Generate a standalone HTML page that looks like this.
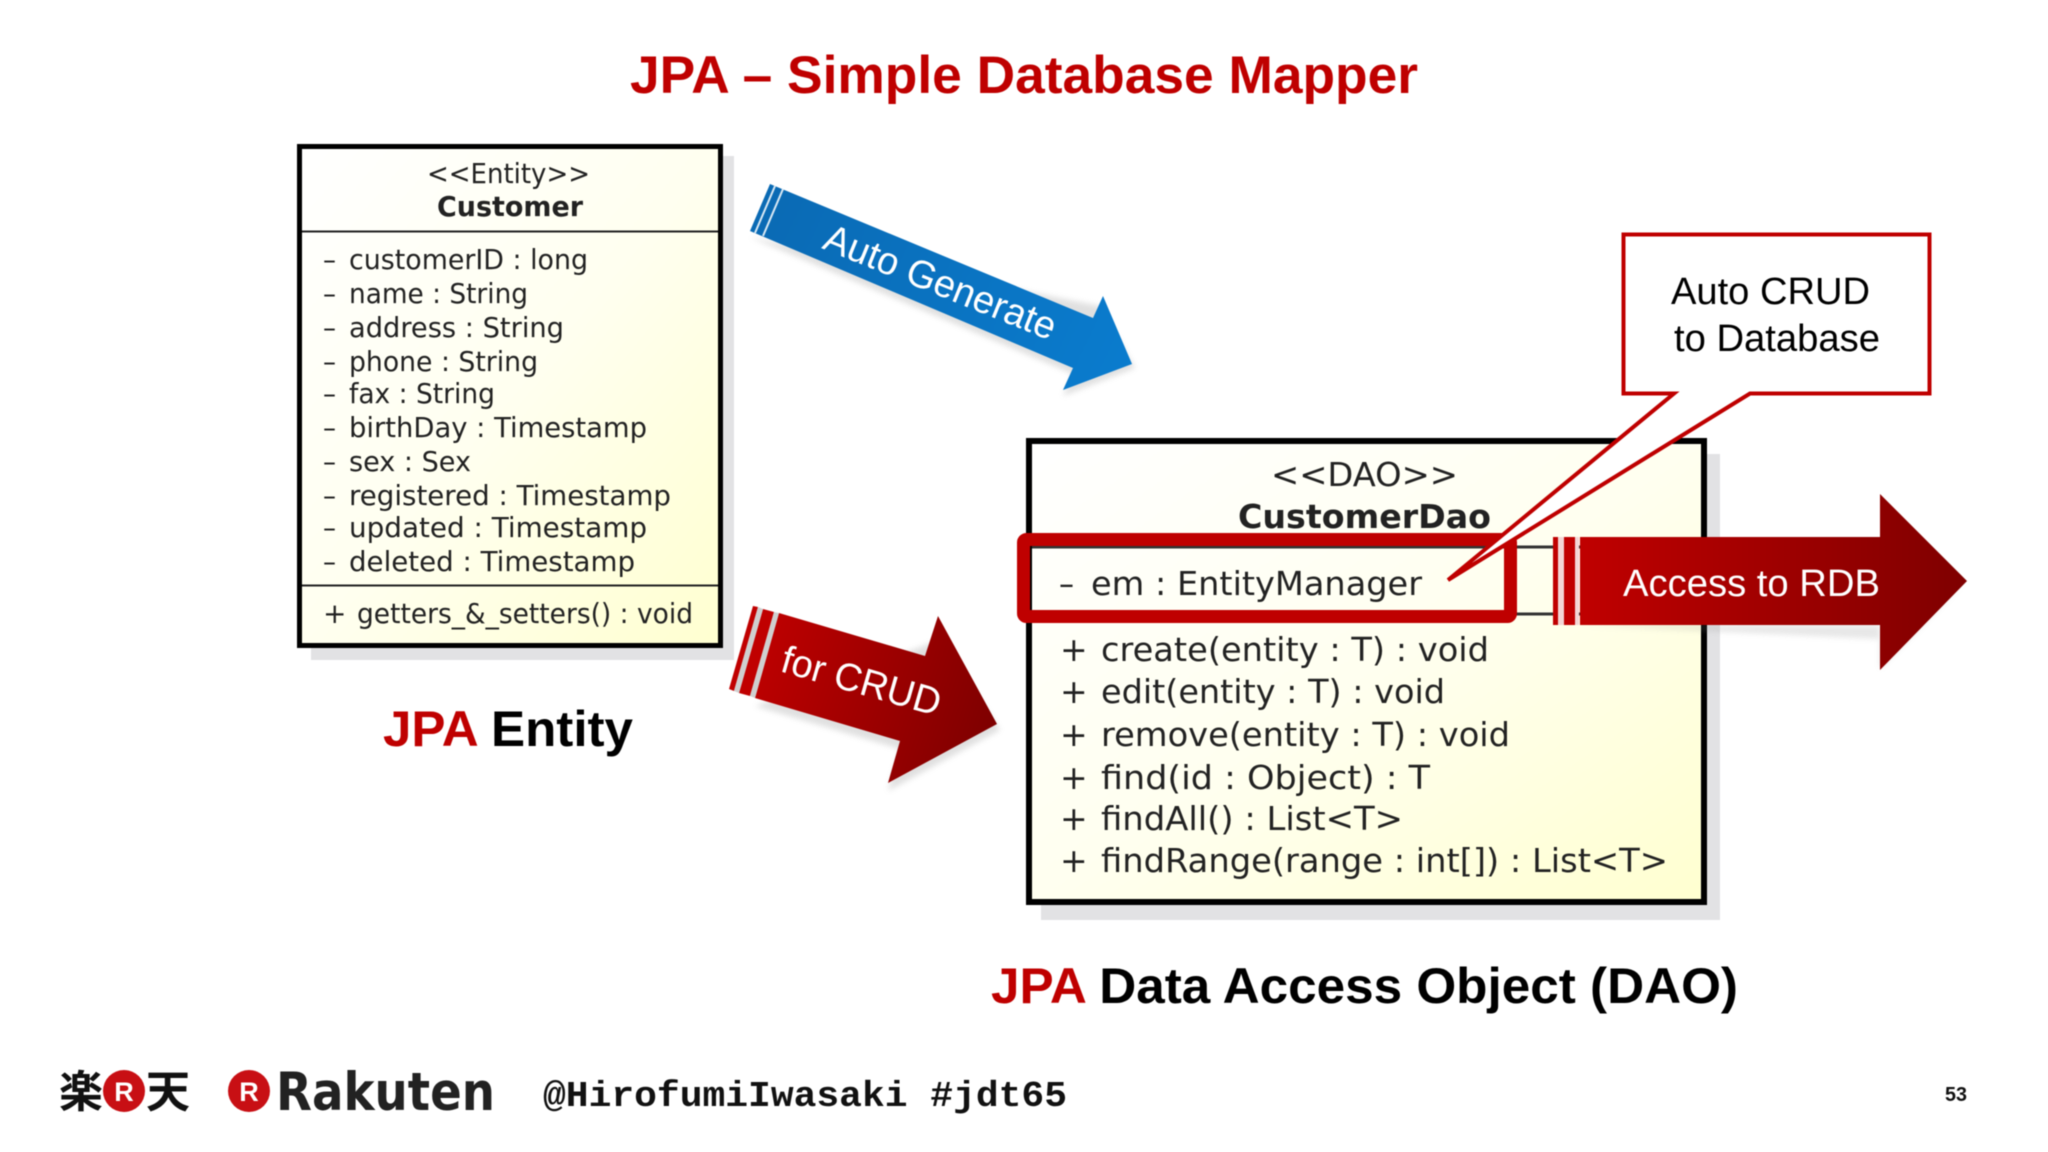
<!DOCTYPE html>
<html><head><meta charset="utf-8"><title>JPA</title>
<style>
html,body{margin:0;padding:0;background:#fff;width:2048px;height:1152px;overflow:hidden}
svg{display:block;filter:blur(.6px)}
text{white-space:pre}
.s{font-family:"Liberation Sans",sans-serif}
.b{font-family:"Liberation Sans",sans-serif;font-weight:bold}
.u{font-family:"DejaVu Sans",sans-serif;fill:#222}
.c{font-size:28px}
.d{font-size:33px}
</style></head><body>
<svg width="2048" height="1152" viewBox="0 0 2048 1152" xmlns="http://www.w3.org/2000/svg">
<defs>
<linearGradient id="y" x1="0" y1="0" x2="1" y2="1"><stop offset="0" stop-color="#ffffff"/><stop offset=".5" stop-color="#fffff0"/><stop offset="1" stop-color="#ffffd0"/></linearGradient>
<linearGradient id="bl" gradientUnits="userSpaceOnUse" x1="760" y1="200" x2="1130" y2="370"><stop offset="0" stop-color="#0a6ab4"/><stop offset="1" stop-color="#0a7cce"/></linearGradient>
<linearGradient id="rd" gradientUnits="userSpaceOnUse" x1="750" y1="640" x2="990" y2="720"><stop offset="0" stop-color="#c00000"/><stop offset="1" stop-color="#800000"/></linearGradient>
<linearGradient id="rh" gradientUnits="userSpaceOnUse" x1="1580" y1="0" x2="1960" y2="0"><stop offset="0" stop-color="#c00000"/><stop offset="1" stop-color="#800000"/></linearGradient>
<filter id="sh" x="-10%" y="-10%" width="120%" height="120%"><feGaussianBlur stdDeviation="3"/></filter>
</defs>

<text class="b" x="630" y="93" font-size="53" fill="#bf0000" textLength="788" lengthAdjust="spacingAndGlyphs">JPA – Simple Database Mapper</text>

<!-- Customer -->
<rect x="311" y="156" width="423" height="504" fill="#e2e2e4"/>
<rect x="299.500" y="146.500" width="421" height="499" fill="url(#y)" stroke="#000" stroke-width="5"/>
<line x1="302" y1="231.500" x2="718" y2="231.500" stroke="#222" stroke-width="2"/>
<line x1="302" y1="585.500" x2="718" y2="585.500" stroke="#222" stroke-width="2"/>
<text class="u c" x="427" y="183" textLength="163" lengthAdjust="spacingAndGlyphs">&lt;&lt;Entity&gt;&gt;</text>
<text class="u c" x="437" y="216" font-weight="bold" textLength="146" lengthAdjust="spacingAndGlyphs">Customer</text>
<text class="u c" x="323" y="269" textLength="13" lengthAdjust="spacingAndGlyphs">–</text><text class="u c" x="349" y="269" textLength="239" lengthAdjust="spacingAndGlyphs">customerID : long</text>
<text class="u c" x="323" y="303" textLength="13" lengthAdjust="spacingAndGlyphs">–</text><text class="u c" x="349" y="303" textLength="179" lengthAdjust="spacingAndGlyphs">name : String</text>
<text class="u c" x="323" y="337" textLength="13" lengthAdjust="spacingAndGlyphs">–</text><text class="u c" x="349" y="337" textLength="215" lengthAdjust="spacingAndGlyphs">address : String</text>
<text class="u c" x="323" y="371" textLength="13" lengthAdjust="spacingAndGlyphs">–</text><text class="u c" x="349" y="371" textLength="189" lengthAdjust="spacingAndGlyphs">phone : String</text>
<text class="u c" x="323" y="403" textLength="13" lengthAdjust="spacingAndGlyphs">–</text><text class="u c" x="349" y="403" textLength="146" lengthAdjust="spacingAndGlyphs">fax : String</text>
<text class="u c" x="323" y="437" textLength="13" lengthAdjust="spacingAndGlyphs">–</text><text class="u c" x="349" y="437" textLength="298" lengthAdjust="spacingAndGlyphs">birthDay : Timestamp</text>
<text class="u c" x="323" y="471" textLength="13" lengthAdjust="spacingAndGlyphs">–</text><text class="u c" x="349" y="471" textLength="122" lengthAdjust="spacingAndGlyphs">sex : Sex</text>
<text class="u c" x="323" y="505" textLength="13" lengthAdjust="spacingAndGlyphs">–</text><text class="u c" x="349" y="505" textLength="322" lengthAdjust="spacingAndGlyphs">registered : Timestamp</text>
<text class="u c" x="323" y="537" textLength="13" lengthAdjust="spacingAndGlyphs">–</text><text class="u c" x="349" y="537" textLength="298" lengthAdjust="spacingAndGlyphs">updated : Timestamp</text>
<text class="u c" x="323" y="571" textLength="13" lengthAdjust="spacingAndGlyphs">–</text><text class="u c" x="349" y="571" textLength="286" lengthAdjust="spacingAndGlyphs">deleted : Timestamp</text>
<text class="u c" x="323" y="623">+</text><text class="u c" x="357" y="623" textLength="336" lengthAdjust="spacingAndGlyphs">getters_&amp;_setters() : void</text>

<text class="b" x="383" y="746" font-size="50" textLength="250" lengthAdjust="spacingAndGlyphs"><tspan fill="#bf0000">JPA</tspan><tspan fill="#000"> Entity</tspan></text>

<!-- Blue arrow -->
<polygon points="750,237 1073,374 1063,396 1135,368 1100,306" fill="#999" opacity=".3" filter="url(#sh)"/>
<polygon points="770,184 1093,318 1103,296 1132,364 1063,390 1073,368 750,231" fill="url(#bl)"/>
<g stroke="#d8e8f4" stroke-width="2"><line x1="775" y1="186" x2="755" y2="233"/><line x1="783" y1="189" x2="763" y2="236"/></g>
<text class="s" transform="translate(821,248) rotate(22)" font-size="39" fill="#fff" textLength="247" lengthAdjust="spacingAndGlyphs">Auto Generate</text>

<!-- Red arrow -->
<polygon points="755,706 900,749 888,791 1000,730 940,640" fill="#999" opacity=".3" filter="url(#sh)"/>
<polygon points="779,613 925,656 938,616 997,724 888,783 900,741 755,698" fill="url(#rd)"/>
<polygon points="753,606 758,607 734,691 729,689" fill="#c00000"/>
<polygon points="763,609 774,612 750,696 739,693" fill="#c00000"/>
<polygon points="758,607 763,609 739,693 734,691" fill="#cfcfcf"/>
<polygon points="774,612 779,613 755,698 750,696" fill="#cfcfcf"/>
<text class="s" transform="translate(779,671) rotate(16)" font-size="39" fill="#fff" textLength="164" lengthAdjust="spacingAndGlyphs">for CRUD</text>

<!-- DAO -->
<rect x="1041" y="454" width="679" height="466" fill="#e2e2e4"/>
<rect x="1029" y="441" width="675" height="461" fill="url(#y)" stroke="#000" stroke-width="6"/>
<line x1="1032" y1="547" x2="1701" y2="547" stroke="#333" stroke-width="3"/>
<line x1="1032" y1="614" x2="1701" y2="614" stroke="#333" stroke-width="3"/>
<text class="u d" x="1271" y="486" textLength="187" lengthAdjust="spacingAndGlyphs">&lt;&lt;DAO&gt;&gt;</text>
<text class="u d" x="1238" y="528" font-weight="bold" textLength="253" lengthAdjust="spacingAndGlyphs">CustomerDao</text>
<text class="u d" x="1059" y="595" textLength="15" lengthAdjust="spacingAndGlyphs">–</text><text class="u d" x="1091" y="595" textLength="331" lengthAdjust="spacingAndGlyphs">em : EntityManager</text>
<text class="u d" x="1060" y="661">+</text><text class="u d" x="1101" y="661" textLength="388" lengthAdjust="spacingAndGlyphs">create(entity : T) : void</text>
<text class="u d" x="1060" y="703">+</text><text class="u d" x="1101" y="703" textLength="344" lengthAdjust="spacingAndGlyphs">edit(entity : T) : void</text>
<text class="u d" x="1060" y="746">+</text><text class="u d" x="1101" y="746" textLength="409" lengthAdjust="spacingAndGlyphs">remove(entity : T) : void</text>
<text class="u d" x="1060" y="789">+</text><text class="u d" x="1101" y="789" textLength="329" lengthAdjust="spacingAndGlyphs">find(id : Object) : T</text>
<text class="u d" x="1060" y="830">+</text><text class="u d" x="1101" y="830" textLength="302" lengthAdjust="spacingAndGlyphs">findAll() : List&lt;T&gt;</text>
<text class="u d" x="1060" y="872">+</text><text class="u d" x="1101" y="872" textLength="567" lengthAdjust="spacingAndGlyphs">findRange(range : int[]) : List&lt;T&gt;</text>

<!-- red highlight -->
<rect x="1023.500" y="539.500" width="487" height="77" rx="3" fill="none" stroke="#bf0000" stroke-width="13"/>

<!-- Access arrow -->
<polygon points="1579,625 1880,625 1880,669 1966,581 1900,640" fill="#888" opacity=".2" filter="url(#sh)"/>
<rect x="1553" y="537" width="5" height="88" fill="#c00000"/>
<rect x="1558" y="537" width="6" height="88" fill="#f3d6d6"/>
<rect x="1564" y="537" width="11" height="88" fill="#c00000"/>
<rect x="1575" y="537" width="4" height="88" fill="#f3d6d6"/>
<polygon points="1580,537 1880,537 1880,494 1967,581 1880,670 1880,625 1580,625" fill="url(#rh)"/>
<text class="s" x="1623" y="596" font-size="38" fill="#fff" textLength="257" lengthAdjust="spacingAndGlyphs">Access to RDB</text>

<!-- callout -->
<polygon points="1623.500,234.500 1929.500,234.500 1929.500,393.500 1750,393.500 1448,580 1674,393.500 1623.500,393.500" fill="#fff" stroke="#bf0000" stroke-width="4" stroke-linejoin="miter"/>
<text class="s" x="1671" y="304" font-size="38" fill="#000" textLength="199" lengthAdjust="spacingAndGlyphs">Auto CRUD</text>
<text class="s" x="1674" y="351" font-size="38" fill="#000" textLength="206" lengthAdjust="spacingAndGlyphs">to Database</text>

<text class="b" x="991" y="1003" font-size="50" textLength="747" lengthAdjust="spacingAndGlyphs"><tspan fill="#bf0000">JPA</tspan><tspan fill="#000"> Data Access Object (DAO)</tspan></text>

<!-- Footer -->
<text x="59" y="1107" font-size="44" font-weight="bold" fill="#111" font-family="'Liberation Sans','Noto Sans CJK JP',sans-serif">楽</text>
<circle cx="124" cy="1091" r="21" fill="#c80f14"/>
<text class="b" x="124" y="1101" font-size="27" fill="#fff" text-anchor="middle">R</text>
<text x="146" y="1107" font-size="44" font-weight="bold" fill="#111" font-family="'Liberation Sans','Noto Sans CJK JP',sans-serif">天</text>
<circle cx="249" cy="1091" r="21" fill="#c80f14"/>
<text class="b" x="249" y="1101" font-size="27" fill="#fff" text-anchor="middle">R</text>
<text x="276" y="1110" font-size="53" font-weight="bold" font-family="'DejaVu Sans',sans-serif" fill="#222" textLength="219" lengthAdjust="spacingAndGlyphs">Rakuten</text>
<text x="543" y="1106" font-size="36" font-weight="bold" font-family="'Liberation Mono',monospace" fill="#111" textLength="524" lengthAdjust="spacingAndGlyphs">@HirofumiIwasaki #jdt65</text>
<text class="b" x="1945" y="1101" font-size="20" fill="#111" textLength="22" lengthAdjust="spacingAndGlyphs">53</text>
</svg>
</body></html>
